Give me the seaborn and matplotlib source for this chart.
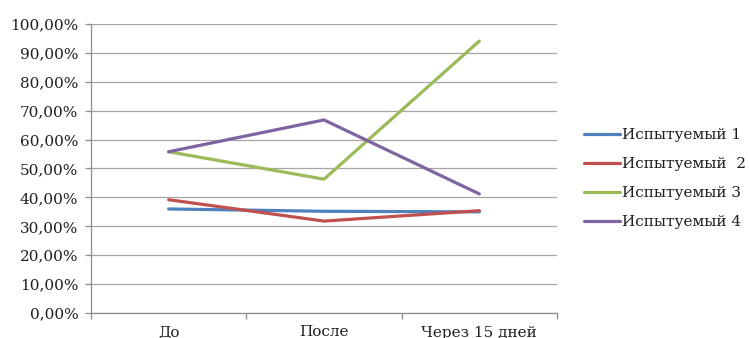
import matplotlib
matplotlib.use("Agg")
import matplotlib.pyplot as plt
import pandas as pd
import seaborn as sns
from matplotlib.ticker import FuncFormatter, MultipleLocator

# Measurement points and per-subject results (fractions)
stages = ["До", "После", "Через 15 дней"]
subject_1 = [0.360, 0.352, 0.350]
subject_2 = [0.392, 0.318, 0.354]
subject_3 = [0.558, 0.463, 0.941]
subject_4 = [0.558, 0.668, 0.412]
series_names = ["Испытуемый 1", "Испытуемый  2", "Испытуемый 3", "Испытуемый 4"]
colors = ["#4F81BD", "#C0504D", "#9BBB59", "#8064A2"]

rows = []
for name, vals in zip(series_names, [subject_1, subject_2, subject_3, subject_4]):
    for stage, v in zip(stages, vals):
        rows.append({"Этап": stage, "Значение": v, "Серия": name})
df = pd.DataFrame(rows)

sns.set_theme(style="white")
plt.rcParams["font.family"] = ["DejaVu Serif"]
text_color = "#1f1f1f"

fig = plt.figure(figsize=(7.49, 3.38), dpi=100)
ax = fig.add_axes([91 / 749, 1 - 313 / 338, (557 - 91) / 749, (313 - 24) / 338])

sns.lineplot(
    data=df, x="Этап", y="Значение", hue="Серия", hue_order=series_names,
    palette=colors, linewidth=2.3, sort=False, ax=ax, legend=False, zorder=3,
)

ax.set_xlim(-0.5, len(stages) - 0.5)
ax.set_ylim(0, 1.0)
ax.yaxis.set_major_locator(MultipleLocator(0.1))
ax.yaxis.set_major_formatter(
    FuncFormatter(lambda v, _: f"{v * 100:.2f}%".replace(".", ","))
)
ax.set_xlabel("")
ax.set_ylabel("")

# Horizontal gridlines
ax.grid(axis="y", color="#a6a6a6", linewidth=0.9, zorder=0)
ax.grid(axis="x", visible=False)

for side in ["top", "right"]:
    ax.spines[side].set_visible(False)
for side in ["left", "bottom"]:
    ax.spines[side].set_color("#8c8c8c")
    ax.spines[side].set_linewidth(0.9)

# Category ticks sit on the boundaries between groups
ax.set_xticks(range(len(stages)))
ax.set_xticks([i - 0.5 for i in range(len(stages) + 1)], minor=True)
ax.tick_params(axis="x", which="major", length=0, pad=9, labelsize=11,
               labelcolor=text_color)
ax.tick_params(axis="x", which="minor", length=4, width=0.9, color="#8c8c8c",
               direction="out", bottom=True)
ax.tick_params(axis="y", length=4, width=0.9, color="#8c8c8c", direction="out",
               left=True, pad=5, labelsize=11, labelcolor=text_color)

# Legend to the right of the plot area
handles = [plt.Line2D([], [], color=c, linewidth=2.3) for c in colors]
fig.legend(
    handles, series_names, loc="center left",
    bbox_to_anchor=(584 / 749, 1 - 178.5 / 338), frameon=False,
    fontsize=11, handlelength=2.35, handletextpad=0.15, labelspacing=0.98,
    borderpad=0, borderaxespad=0, labelcolor=text_color,
)

fig.savefig("out.png", dpi=100, facecolor="white")
